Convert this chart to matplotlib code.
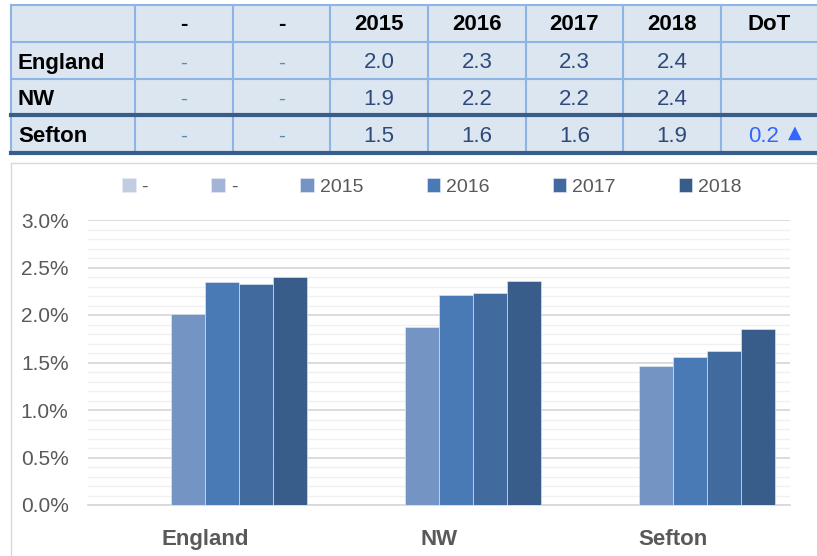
import matplotlib
matplotlib.use('Agg')
import matplotlib.pyplot as plt
from matplotlib.patches import Rectangle
from matplotlib.ticker import MultipleLocator, FuncFormatter
import numpy as np

areas = ['England', 'NW', 'Sefton']
series = ['-', '-', '2015', '2016', '2017', '2018']
values = [
    [np.nan, np.nan, np.nan],
    [np.nan, np.nan, np.nan],
    [2.01, 1.87, 1.46],
    [2.35, 2.21, 1.56],
    [2.33, 2.23, 1.62],
    [2.40, 2.355, 1.85],
]
colors = ['#C2CDE2', '#A3B5D6', '#7494C4', '#4A7AB5', '#416B9F', '#385D8A']

header = ['', '-', '-', '2015', '2016', '2017', '2018', 'DoT']
table_rows = [
    ['England', '-', '-', '2.0', '2.3', '2.3', '2.4', ''],
    ['NW', '-', '-', '1.9', '2.2', '2.2', '2.4', ''],
    ['Sefton', '-', '-', '1.5', '1.6', '1.6', '1.9', '0.2'],
]

plt.rcParams['font.family'] = ['Liberation Sans', 'DejaVu Sans']

W, H = 817, 556
fig = plt.figure(figsize=(W / 100, H / 100), dpi=100)

# overlay in pixel coordinates for table and panel frame
ov = fig.add_axes([0, 0, 1, 1])
ov.set_xlim(0, W)
ov.set_ylim(H, 0)
ov.axis('off')

col_edges = [11, 135, 233, 330, 428, 526, 623, 721, 830]
row_edges = [5, 42, 79, 115, 153]
ov.add_patch(Rectangle((11, 5), 830, 148, facecolor='#DCE6F1', edgecolor='none'))
for x in col_edges:
    ov.plot([x, x], [5, 153], color='#8DB4E2', lw=1.5)
for y in row_edges[:3]:
    ov.plot([11, W], [y, y], color='#8DB4E2', lw=1.5)
for y in row_edges[3:]:
    ov.plot([11, W], [y, y], color='#385D8A', lw=3)

centers = [(col_edges[i] + col_edges[i + 1]) / 2 for i in range(7)]
centers.append(769)
for j, h in enumerate(header):
    if h:
        ov.text(centers[j], 25, h, ha='center', va='center', fontsize=16,
                fontweight='bold', color='black')
for i, row in enumerate(table_rows):
    yc = (row_edges[i + 1] + row_edges[i + 2]) / 2 + 2.5
    ov.text(18, yc, row[0], ha='left', va='center', fontsize=16,
            fontweight='bold', color='black')
    for j in range(1, 3):
        ov.text(centers[j], yc, row[j], ha='center', va='center', fontsize=15,
                color='#5B8CA8')
    for j in range(3, 7):
        ov.text(centers[j], yc, row[j], ha='center', va='center', fontsize=16,
                color='#2E4A7A')
    if row[7]:
        ov.text(764, yc, row[7], ha='center', va='center', fontsize=16,
                color='#3366FF')
        ov.text(795, yc - 4, '\u25B2', ha='center', va='center', fontsize=13,
                color='#3366FF', family=['DejaVu Sans'])

# chart panel frame
ov.plot([11, 11], [163, H], color='#D9D9D9', lw=1)
ov.plot([11, W], [163, 163], color='#D9D9D9', lw=1)

ax = fig.add_axes([88 / W, (H - 505) / H, (790 - 88) / W, (505 - 220) / H])
x = np.arange(len(areas))
w = 0.145
for i, (name, vals, c) in enumerate(zip(series, values, colors)):
    ax.bar(x + (i - 2.5) * w, vals, w, color=c, label=name,
           edgecolor='#E8EEF6', linewidth=0.4, zorder=3)

ax.set_xlim(-0.5, 2.5)
ax.set_ylim(0, 3.0)
ax.yaxis.set_major_locator(MultipleLocator(0.5))
ax.yaxis.set_minor_locator(MultipleLocator(0.1))
ax.yaxis.set_major_formatter(FuncFormatter(lambda v, p: f'{v:.1f}%'))
ax.grid(axis='y', which='major', color='#D9D9D9', lw=1.3, zorder=0)
ax.grid(axis='y', which='minor', color='#F0F0F0', lw=1.0, zorder=0)
for s in ['top', 'right', 'left']:
    ax.spines[s].set_visible(False)
ax.spines['bottom'].set_color('#D9D9D9')
ax.spines['bottom'].set_linewidth(1.3)
ax.tick_params(axis='both', which='both', length=0)
ax.tick_params(axis='y', labelsize=15, labelcolor='#595959', pad=14)
ax.set_xticks(x)
ax.set_xticklabels(areas, fontsize=16, fontweight='bold', color='#595959')
ax.tick_params(axis='x', pad=17)

fig.legend(loc='center', bbox_to_anchor=(432 / W, 1 - 187 / H), ncol=6,
           frameon=False, fontsize=14, handlelength=0.7, handleheight=0.7,
           handletextpad=0.3, columnspacing=3.25, labelcolor='#595959')

fig.savefig('out.png', dpi=100)
